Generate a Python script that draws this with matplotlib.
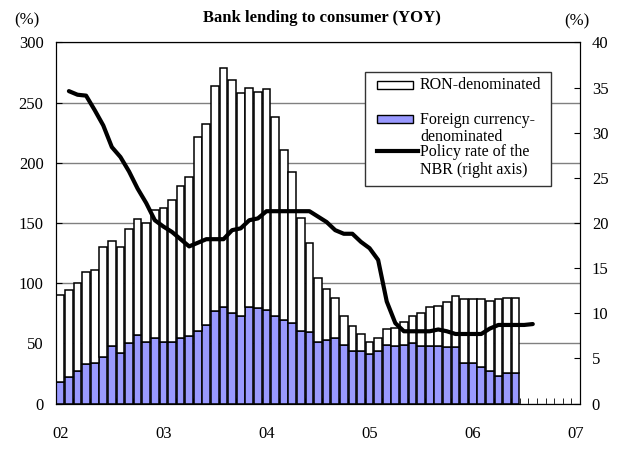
import numpy as np
import matplotlib.pyplot as plt
from matplotlib.patches import Rectangle
from matplotlib.lines import Line2D

plt.rcParams['font.family'] = ['Liberation Serif', 'DejaVu Serif']

W, H = 621, 463

# monthly, Jan 2002 .. Jan 2007 (61 categories)
year_labels = ['02', '03', '04', '05', '06', '07']

# total YoY growth (bar top) and foreign-currency part, Jan 2002 .. Jun 2006
total = [90, 94, 100, 109, 111, 130, 135, 130, 145, 153, 150, 161,
         162, 169, 181, 188, 221, 232, 264, 279, 269, 258, 262, 259,
         261, 238, 211, 192, 154, 133, 104, 95, 88, 73, 64, 58,
         51, 54, 62, 63, 68, 73, 75, 80, 81, 84, 89, 87,
         87, 87, 85, 87, 88, 88]
foreign = [18, 22, 27, 33, 34, 39, 48, 42, 50, 57, 51, 54,
           51, 51, 54, 56, 60, 65, 77, 80, 75, 73, 80, 79,
           78, 73, 69, 67, 60, 59, 51, 53, 54, 49, 44, 44,
           41, 44, 49, 48, 49, 50, 48, 48, 48, 47, 47, 34,
           34, 30, 27, 23, 25, 25]
ron = [t - f for t, f in zip(total, foreign)]

# NBR policy rate, Feb 2002 .. Aug 2006
rate = [34.6, 34.2, 34.1, 32.5, 30.8, 28.4, 27.3, 25.7, 23.8, 22.2, 20.3,
        19.6, 19.0, 18.2, 17.4, 17.8, 18.2, 18.2, 18.2, 19.2, 19.4, 20.3,
        20.5, 21.3, 21.3, 21.3, 21.3, 21.3, 21.3, 20.7, 20.1, 19.2, 18.8,
        18.8, 17.9, 17.2, 15.9, 11.3, 8.9, 8.0, 8.0, 8.0, 8.0, 8.2,
        8.0, 7.7, 7.7, 7.7, 7.7, 8.3, 8.7, 8.7, 8.7, 8.7, 8.8]

xb = np.arange(len(total))
xr = np.arange(1, 1 + len(rate))

blue = '#9999ff'

fig = plt.figure(figsize=(W / 100, H / 100), dpi=100)
ax = fig.add_axes([0.0902, 0.1285, 0.8438, 0.780])
ax2 = ax.twinx()

ax.bar(xb, foreign, width=0.9, color=blue, edgecolor='black', linewidth=1.1, zorder=2)
ax.bar(xb, ron, bottom=foreign, width=0.9, color='white', edgecolor='black', linewidth=1.1, zorder=2)
ax2.plot(xr, rate, color='black', linewidth=3.0, solid_capstyle='round')

ax.set_xlim(-0.5, 60.5)
ax.set_ylim(0, 300)
ax2.set_ylim(0, 40)
ax.set_yticks(np.arange(0, 301, 50))
ax2.set_yticks(np.arange(0, 41, 5))
ax.set_xticks(np.arange(0, 61, 12))
ax.set_xticklabels(year_labels)
ax.set_xticks(np.arange(-0.5, 61, 1), minor=True)
ax.tick_params(axis='x', which='major', length=0, pad=16, labelsize=12)
ax.tick_params(axis='x', which='minor', direction='in', length=4)
ax.tick_params(axis='y', direction='in', length=4, labelsize=12, pad=9)
ax2.tick_params(axis='y', direction='in', length=4, labelsize=12, pad=8.5)

ax.set_axisbelow(True)
ax.grid(axis='y', color='#808080', linewidth=1.0, zorder=0)

fig.text(322 / W, 1 - 17.5 / H, 'Bank lending to consumer (YOY)', ha='center', va='center',
         fontsize=12, fontweight='bold')
fig.text(27 / W, 1 - 20 / H, '(%)', ha='center', va='center', fontsize=12)
fig.text(577 / W, 1 - 21 / H, '(%)', ha='center', va='center', fontsize=12)


# legend box drawn by hand (pixel layout of the original)
def fx(x):
    return x / W


def fy(y):
    return 1 - y / H


fig.add_artist(Rectangle((fx(365), fy(186)), fx(551) - fx(365), fy(72) - fy(186),
                         transform=fig.transFigure, facecolor='white',
                         edgecolor='#333333', linewidth=1.0, zorder=5))
for yc, col in [(85, 'white'), (119, blue)]:
    fig.add_artist(Rectangle((fx(377), fy(yc + 4)), fx(413) - fx(377), fy(yc - 4) - fy(yc + 4),
                             transform=fig.transFigure, facecolor=col,
                             edgecolor='black', linewidth=1.0, zorder=6))
fig.add_artist(Line2D([fx(377), fx(418)], [fy(151), fy(151)], transform=fig.transFigure,
                      color='black', linewidth=3.0, zorder=6))
for yc, s in [(85, 'RON-denominated'), (120, 'Foreign currency-'), (137, 'denominated'),
              (152, 'Policy rate of the'), (170, 'NBR (right axis)')]:
    fig.text(fx(420), fy(yc), s, ha='left', va='center', fontsize=11.5, zorder=7)

fig.savefig('out.png', dpi=100)
